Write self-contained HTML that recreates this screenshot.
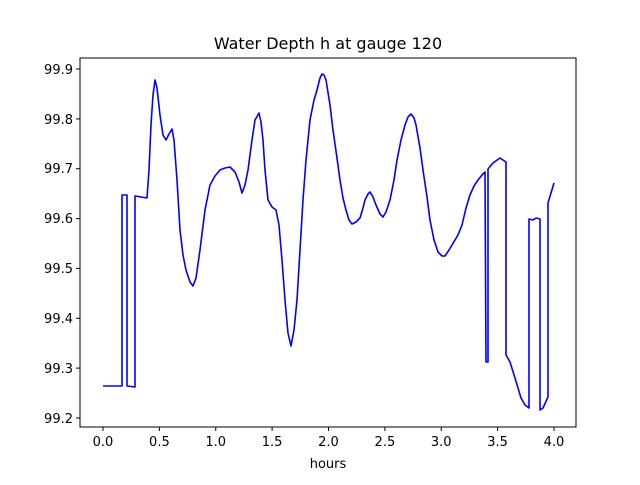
<!DOCTYPE html>
<html><head><style>body{margin:0;background:#fff}svg text{font-family:"DejaVu Sans","Liberation Sans",sans-serif;font-size:13px;fill:#000}</style></head><body>
<svg width="640" height="480" xmlns="http://www.w3.org/2000/svg">
<rect width="640" height="480" fill="#fff"/>
<text x="328" y="49" text-anchor="middle" style="font-size:16px">Water Depth h at gauge 120</text>
<polyline fill="none" stroke="#0000ff" stroke-width="1.6" stroke-linejoin="round" points="103,386 122,386 122,195 127,195 127,386 135,387 135,196 147,198 149,170 151,125 153,95 155,80 157,88 160,115 163,135 166,140 169,134 172,129 174,140 177,180 180,230 183,255 186,270 190,282 193,286 196,278 200,250 205,210 210,185 215,176 220,170 225,168 230,167 235,172 239,182 242,193 245,185 248,170 252,140 255,120 259,113 261,122 263,140 265,170 268,200 272,207 276,210 279,225 282,260 285,300 288,333 291,346 294,330 297,300 300,250 303,200 306,160 310,120 314,100 317,90 320,78 322,74 324,75 326,80 330,105 333,130 337,158 340,180 343,198 346,210 349,220 352,224 356,222 360,218 363,208 365,200 368,194 370,192 373,197 376,205 380,214 383,217 386,212 390,200 394,180 397,160 401,140 405,125 408,117 411,114 414,118 416,125 420,148 423,170 427,197 430,220 434,240 438,252 442,256 445,256 449,250 452,245 458,235 462,225 466,208 470,195 474,186 478,180 482,175 485,172 486,362 488,362 488,169 493,163 500,158 506,162 506,355 510,362 515,378 521,398 525,405 529,408 529,219 533,220 536,218 540,219 540,410 543,408 548,397 548,203 554,183"/>
<rect x="80" y="58" width="496" height="369" fill="none" stroke="#000" stroke-width="1"/>
<g stroke="#000">
<line x1="103" y1="427" x2="103" y2="431"/><line x1="159.4" y1="427" x2="159.4" y2="431"/><line x1="215.75" y1="427" x2="215.75" y2="431"/><line x1="272.1" y1="427" x2="272.1" y2="431"/><line x1="328.5" y1="427" x2="328.5" y2="431"/><line x1="384.9" y1="427" x2="384.9" y2="431"/><line x1="441.25" y1="427" x2="441.25" y2="431"/><line x1="497.6" y1="427" x2="497.6" y2="431"/><line x1="554" y1="427" x2="554" y2="431"/>
<line x1="76" y1="418" x2="80" y2="418"/><line x1="76" y1="368.1" x2="80" y2="368.1"/><line x1="76" y1="318.3" x2="80" y2="318.3"/><line x1="76" y1="268.4" x2="80" y2="268.4"/><line x1="76" y1="218.6" x2="80" y2="218.6"/><line x1="76" y1="168.7" x2="80" y2="168.7"/><line x1="76" y1="118.9" x2="80" y2="118.9"/><line x1="76" y1="69" x2="80" y2="69"/>
</g>
<g text-anchor="middle">
<text x="103" y="446">0.0</text><text x="159.4" y="446">0.5</text><text x="215.75" y="446">1.0</text><text x="272.1" y="446">1.5</text><text x="328.5" y="446">2.0</text><text x="384.9" y="446">2.5</text><text x="441.25" y="446">3.0</text><text x="497.6" y="446">3.5</text><text x="554" y="446">4.0</text>
<text x="328" y="468">hours</text>
</g>
<g text-anchor="end">
<text x="73" y="423">99.2</text><text x="73" y="373">99.3</text><text x="73" y="323">99.4</text><text x="73" y="273">99.5</text><text x="73" y="223">99.6</text><text x="73" y="173">99.7</text><text x="73" y="124">99.8</text><text x="73" y="74">99.9</text>
</g>
</svg>
</body></html>
